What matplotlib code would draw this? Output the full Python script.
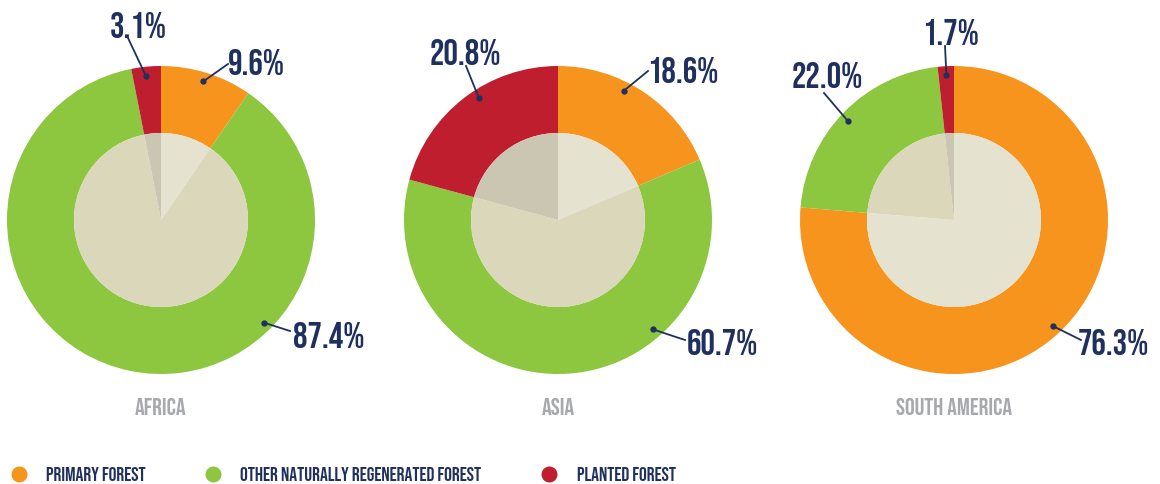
import numpy as np
import matplotlib
matplotlib.use("Agg")
import matplotlib.pyplot as plt
from matplotlib import font_manager

# data
regions = ["AFRICA", "ASIA", "SOUTH AMERICA"]
categories = ["PRIMARY FOREST", "OTHER NATURALLY REGENERATED FOREST", "PLANTED FOREST"]
africa = [9.6, 87.4, 3.1]
asia = [18.6, 60.7, 20.8]
south_america = [76.3, 22.0, 1.7]
shares = [africa, asia, south_america]

# colours
outer_cols = ["#f7941d", "#8dc63f", "#be1e2d"]
inner_cols = ["#e5e2d0", "#dbd7bb", "#cbc6b1"]
navy = "#1f305e"
grey = "#a7a9ac"

# condensed display font
names = {f.name for f in font_manager.fontManager.ttflist}
fam = ["Bebas Neue", "DejaVu Sans"] if "Bebas Neue" in names else ["DejaVu Sans"]

W, H = 1160, 485
fig = plt.figure(figsize=(W / 100, H / 100), dpi=100)
ax = fig.add_axes([0, 0, 1, 1])

centers = [(161, H - 221), (558, H - 221), (954, H - 221)]
R_out, R_in = 154, 87

# leader dots (angle in deg, radius 145), line ends and label left/baseline (pixels from top-left)
dot_ang = [[73, -45, 96], [63, -49, 123], [-47, 137, 93]]
line_end = [[(228, 65), (290, 332), (128, 39)],
            [(648, 72), (685, 341), (466, 67)],
            [(1081, 341), (824, 94), (945, 47)]]
lab_pos = [[(228, 75), (293, 348), (110, 38)],
           [(647, 83), (687, 355), (430, 65)],
           [(1078, 355), (792, 88), (922, 45)]]

for i, vals in enumerate(shares):
    c = centers[i]
    ax.pie(vals, radius=R_out, center=c, startangle=90, counterclock=False,
           colors=outer_cols, wedgeprops=dict(width=R_out - R_in, linewidth=0))
    ax.pie(vals, radius=R_in, center=c, startangle=90, counterclock=False,
           colors=inner_cols, wedgeprops=dict(linewidth=0))
    for j, v in enumerate(vals):
        a = np.deg2rad(dot_ang[i][j])
        dx, dy = c[0] + 145 * np.cos(a), c[1] + 145 * np.sin(a)
        ex, ey = line_end[i][j]
        ax.plot([dx, ex], [dy, H - ey], color=navy, lw=1.3, zorder=5)
        ax.plot(dx, dy, "o", color=navy, ms=3.5, zorder=6)
        lx, ly = lab_pos[i][j]
        ax.text(lx, H - ly, f"{v:.1f}%", family=fam, fontsize=26,
                color=navy, ha="left", va="baseline", zorder=7)
    ax.text(c[0], H - 415, regions[i], family=fam, fontsize=17.5,
            color=grey, ha="center", va="baseline")

# legend
leg_dot_x = [19, 213, 549]
leg_txt_x = [46, 240, 577]
for k, lab in enumerate(categories):
    ax.plot(leg_dot_x[k], H - 475, "o", ms=10.5, color=outer_cols[k], mec=outer_cols[k])
    ax.text(leg_txt_x[k], H - 481, lab, family=fam, fontsize=14, color=navy,
            ha="left", va="baseline")

ax.set_xlim(0, W)
ax.set_ylim(0, H)
ax.set_aspect("auto")
ax.axis("off")
fig.savefig("out.png", dpi=100)
